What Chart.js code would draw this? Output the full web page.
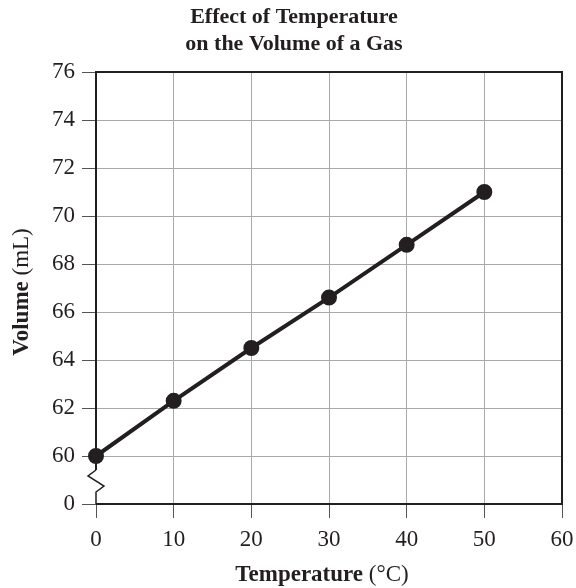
<!DOCTYPE html>
<html>
<head>
<meta charset="utf-8">
<script src="https://cdn.jsdelivr.net/npm/chart.js@4"></script>
<style>
  html, body { margin: 0; padding: 0; background: #fff; }
  #wrap { width: 576px; height: 588px; }
</style>
</head>
<body>
<div id="wrap"><canvas id="chart" width="576" height="588"></canvas></div>
<script>
const temps   = [0, 10, 20, 30, 40, 50];
const volumes = [60, 62.3, 64.5, 66.6, 68.8, 71.0];
const xTicks  = [0, 10, 20, 30, 40, 50, 60];
const yTicks  = [58, 60, 62, 64, 66, 68, 70, 72, 74, 76];   // 58 is the broken-axis "0"

const SERIF = '"Liberation Serif", "Times New Roman", serif';
const DARK  = '#231f20';
const GRID  = '#a7a9ac';

// titles, frame and axis break
const decor = {
  id: 'decor',
  beforeDatasetsDraw(chart) {
    const { ctx, chartArea: a, scales: { y } } = chart;
    const y60 = y.getPixelForValue(60);
    ctx.save();
    ctx.strokeStyle = DARK;
    ctx.lineWidth = 2;
    ctx.lineJoin = 'miter';
    ctx.beginPath();
    ctx.moveTo(a.left, a.bottom);
    ctx.lineTo(a.right, a.bottom);
    ctx.lineTo(a.right, a.top);
    ctx.lineTo(a.left, a.top);
    ctx.lineTo(a.left, y60 + 14);
    ctx.stroke();
    // zigzag break
    ctx.lineWidth = 1.5;
    ctx.beginPath();
    ctx.moveTo(a.left, y60 + 14);
    ctx.lineTo(a.left - 8, y60 + 20);
    ctx.lineTo(a.left + 8, y60 + 30);
    ctx.lineTo(a.left, y60 + 36);
    ctx.lineTo(a.left, a.bottom);
    ctx.stroke();
    ctx.restore();
  },
  afterDraw(chart) {
    const { ctx } = chart;
    ctx.save();
    ctx.fillStyle = DARK;
    ctx.textBaseline = 'middle';
    ctx.textAlign = 'center';
    ctx.font = 'bold 22px ' + SERIF;
    ctx.fillText('Effect of Temperature', 294, 17);
    ctx.fillText('on the Volume of a Gas', 294, 44);

    const mixed = (bold, normal, cx, cy) => {
      ctx.font = 'bold 23px ' + SERIF;
      const wb = ctx.measureText(bold).width;
      ctx.font = '23px ' + SERIF;
      const wn = ctx.measureText(normal).width;
      let x0 = cx - (wb + wn) / 2;
      ctx.textAlign = 'left';
      ctx.font = 'bold 23px ' + SERIF;
      ctx.fillText(bold, x0, cy);
      ctx.font = '23px ' + SERIF;
      ctx.fillText(normal, x0 + wb, cy);
    };
    mixed('Temperature', ' (\u00B0C)', 322, 575);
    ctx.translate(22, 292);
    ctx.rotate(-Math.PI / 2);
    mixed('Volume', ' (mL)', 0, 0);
    ctx.restore();
  }
};

new Chart(document.getElementById('chart').getContext('2d'), {
  type: 'scatter',
  data: {
    datasets: [{
      data: temps.map((t, i) => ({ x: t, y: volumes[i] })),
      showLine: true,
      clip: false,
      borderColor: DARK,
      backgroundColor: DARK,
      borderWidth: 4,
      pointRadius: 6,
      pointHoverRadius: 6,
      tension: 0,
    }],
  },
  options: {
    responsive: false,
    animation: false,
    events: [],
    layout: { padding: { top: 72, left: 0, right: 0, bottom: 0 } },
    plugins: { legend: { display: false }, tooltip: { enabled: false }, title: { display: false } },
    scales: {
      x: {
        type: 'linear',
        min: 0,
        max: 60,
        afterBuildTicks: (s) => { s.ticks = xTicks.map(v => ({ value: v })); },
        afterFit: (s) => { s.height = 84; s.paddingRight = 14; s.paddingLeft = 0; },
        border: { display: false },
        grid: {
          color: (c) => (c.tick && (c.tick.value === 0 || c.tick.value === 60)) ? 'rgba(0,0,0,0)' : GRID,
          lineWidth: 1,
          tickColor: '#555',
          tickLength: 14,
          drawTicks: true,
        },
        ticks: {
          color: DARK,
          padding: 8,
          maxRotation: 0,
          font: { family: SERIF, size: 23 },
        },
      },
      y: {
        type: 'linear',
        min: 58,
        max: 76,
        afterBuildTicks: (s) => { s.ticks = yTicks.map(v => ({ value: v })); },
        afterFit: (s) => { s.width = 96; s.paddingTop = 0; s.paddingBottom = 0; },
        border: { display: false },
        grid: {
          color: (c) => (c.tick && (c.tick.value === 58 || c.tick.value === 76)) ? 'rgba(0,0,0,0)' : GRID,
          lineWidth: 1,
          tickColor: '#555',
          tickLength: 14,
        },
        ticks: {
          color: DARK,
          padding: 7,
          font: { family: SERIF, size: 23 },
          callback: (v) => v === 58 ? '0' : String(v),
        },
      },
    },
  },
  plugins: [decor],
});
</script>
</body>
</html>
